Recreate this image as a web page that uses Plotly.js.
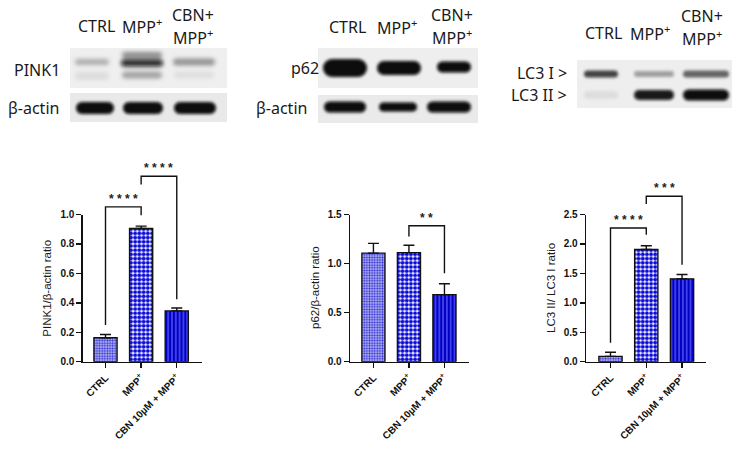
<!DOCTYPE html>
<html>
<head>
<meta charset="utf-8">
<script src="https://cdn.plot.ly/plotly-3.0.1.min.js"></script>
<style>html,body{margin:0;padding:0;background:#fff;}#chart{width:738px;height:454px;}</style>
</head>
<body>
<div id="chart"></div>
<script>
// ---------------- data ----------------
const groups = ['CTRL', 'MPP<sup>+</sup>', 'CBN 10µM + MPP<sup>+</sup>'];

const pinkMean = [0.163, 0.905, 0.345];
const pinkSem  = [0.022, 0.016, 0.020];
const p62Mean  = [1.106, 1.112, 0.684];
const p62Sem   = [0.100, 0.075, 0.110];
const lc3Mean  = [0.090, 1.905, 1.407];
const lc3Sem   = [0.070, 0.065, 0.073];

const yTitles = ['PINK1/β-actin ratio', 'p62/β-actin ratio', 'LC3 II/ LC3 I ratio'];
const yTopTick = [1.0, 1.5, 2.5];
const yDtick = [0.2, 0.5, 0.5];

// significance brackets: pairs of groups, [left leg end, bar top, right leg end], labels
const pinkBrPairs = [[0, 1], [1, 2]];
const pinkBrY     = [[0.25, 1.052, 0.995], [1.203, 1.26, 0.425]];
const pinkBrStars = ['****', '****'];
const p62BrPairs  = [[1, 2]];
const p62BrY      = [[1.276, 1.385, 0.902]];
const p62BrStars  = ['**'];
const lc3BrPairs  = [[0, 1], [1, 2]];
const lc3BrY      = [[0.32, 2.27, 2.155], [2.68, 2.81, 1.645]];
const lc3BrStars  = ['****', '***'];

// blot header labels
const laneLabels = ['CTRL', 'MPP<sup>+</sup>', 'CBN+', 'MPP<sup>+</sup>'];

// ---------------- layout helpers ----------------
const W = 738, H = 454;
const PX = x => x / W;
const PY = y => 1 - y / H;
const FONT = 'Liberation Sans, Arial, sans-serif';
const HFONT = 'Noto Sans, Open Sans, sans-serif';
const INK = '#111';

const xDom = [[82.7, 201.7], [350, 469.3], [586, 706]];
const xRng = [[-0.64, 2.7], [-0.66, 2.7], [-0.685, 2.67]];
const yBottom = 361.7, yTopPx = 214.5, yBrTopPx = 150;

const patShape = ['.', '.', '|'];
const patFg = ['#3434d8', '#0c0cd6', '#5a5aff'];
const patBg = ['#cacaf5', '#ffffff', '#0000bf'];
const patSize = [2.6, 4.2, 3.8];
const patSol = [0.5, 0.68, 0.35];

const traces = [];
const annotations = [];
const layout = {
  width: W, height: H, autosize: false,
  margin: {l: 0, r: 0, t: 0, b: 0},
  paper_bgcolor: '#fff', plot_bgcolor: 'rgba(0,0,0,0)',
  showlegend: false, barmode: 'overlay',
  font: {family: FONT, color: INK},
  annotations: annotations,
  images: []
};

function addChart(i, means, sems, brPairs, brY, brStars) {
  const sfx = i === 0 ? '' : String(i + 1);
  const xa = 'x' + sfx, ya = 'y' + sfx, ybN = String(i + 4), yb = 'y' + ybN;
  const tickfont = {family: FONT, size: 10, color: INK, weight: 'bold'};

  layout['xaxis' + sfx] = {
    domain: [PX(xDom[i][0]), PX(xDom[i][1])], range: xRng[i], anchor: ya,
    type: 'category', categoryorder: 'array', categoryarray: groups,
    showline: true, linecolor: INK, linewidth: 1.4,
    ticks: 'outside', ticklen: 5, tickwidth: 1.4, tickcolor: INK,
    tickangle: -45, tickfont: tickfont, showgrid: false, zeroline: false, fixedrange: true
  };
  layout['yaxis' + sfx] = {
    domain: [PY(yBottom), PY(yTopPx)], range: [0, yTopTick[i]], anchor: xa,
    showline: true, linecolor: INK, linewidth: 1.4,
    ticks: 'outside', ticklen: 5, tickwidth: 1.4, tickcolor: INK,
    tick0: 0, dtick: yDtick[i], tickformat: '.1f', tickfont: tickfont,
    showgrid: false, zeroline: false, fixedrange: true
  };
  const brRange = yTopTick[i] * (yBottom - yBrTopPx) / (yBottom - yTopPx);
  layout['yaxis' + ybN] = {
    domain: [PY(yBottom), PY(yBrTopPx)], range: [0, brRange], anchor: xa,
    visible: false, fixedrange: true
  };

  groups.forEach((g, j) => {
    traces.push({
      type: 'bar', x: [g], y: [means[j]], xaxis: xa, yaxis: ya, width: 0.65,
      marker: {
        color: patFg[j], line: {color: INK, width: 1.4},
        pattern: {shape: patShape[j], fgcolor: patFg[j], bgcolor: patBg[j],
                  size: patSize[j], solidity: patSol[j], fillmode: 'replace'}
      },
      error_y: {type: 'data', symmetric: false, array: [sems[j]], arrayminus: [0],
                color: INK, thickness: 1.4, width: 5.5},
      hoverinfo: 'skip'
    });
  });

  brPairs.forEach((p, k) => {
    traces.push({
      type: 'scatter', mode: 'lines', xaxis: xa, yaxis: yb,
      x: [groups[p[0]], groups[p[0]], groups[p[1]], groups[p[1]]],
      y: [brY[k][0], brY[k][1], brY[k][1], brY[k][2]],
      line: {color: INK, width: 1.4}, hoverinfo: 'skip'
    });
    annotations.push({
      xref: xa, yref: yb, x: (p[0] + p[1]) / 2, y: brY[k][1],
      text: brStars[k].split('').join(' '), showarrow: false,
      xanchor: 'center', yanchor: 'bottom', yshift: -1,
      font: {family: FONT, size: 12, color: '#222', weight: 'bold'}
    });
  });

  annotations.push({
    xref: 'paper', yref: 'paper', x: PX([46.7, 315, 551][i]), y: PY(288),
    text: yTitles[i], textangle: -90, showarrow: false,
    xanchor: 'center', yanchor: 'middle',
    font: {family: FONT, size: 11.5, color: '#1a1a1a'}
  });
}

addChart(0, pinkMean, pinkSem, pinkBrPairs, pinkBrY, pinkBrStars);
addChart(1, p62Mean, p62Sem, p62BrPairs, p62BrY, p62BrStars);
addChart(2, lc3Mean, lc3Sem, lc3BrPairs, lc3BrY, lc3BrStars);

// ---------------- western blot panels (decorative images) ----------------
function blotSVG(w, h, bg, bands, blur) {
  let s = '<svg xmlns="http://www.w3.org/2000/svg" width="' + w + '" height="' + h + '" viewBox="0 0 ' + w + ' ' + h + '">' +
    '<defs><filter id="b" x="-50%" y="-50%" width="200%" height="200%"><feGaussianBlur stdDeviation="' + blur + '"/></filter></defs>' +
    '<rect width="' + w + '" height="' + h + '" fill="' + bg + '"/><g filter="url(#b)">';
  bands.forEach(b => {
    const cx = b[0], cy = b[1], rx = b[2], ry = b[3], op = b[4];
    s += '<rect x="' + (cx - rx) + '" y="' + (cy - ry) + '" width="' + (2 * rx) + '" height="' + (2 * ry) +
         '" rx="' + ry + '" ry="' + ry + '" fill="#080808" fill-opacity="' + op + '"/>';
  });
  s += '</g></svg>';
  return 'data:image/svg+xml;charset=utf-8,' + encodeURIComponent(s);
}
function addBlot(x, y, w, h, bg, bands, blur) {
  layout.images.push({
    source: blotSVG(w, h, bg, bands, blur), xref: 'paper', yref: 'paper',
    x: PX(x), y: PY(y), sizex: w / W, sizey: h / H,
    xanchor: 'left', yanchor: 'top', sizing: 'stretch', layer: 'above'
  });
}
// PINK1
addBlot(70, 48, 157, 40, '#efefef', [
  [22, 14, 17, 3, 0.28], [22, 28, 17, 4, 0.08],
  [72, 7, 20, 3, 0.42], [72, 15, 21, 3.5, 0.9], [72, 27, 20, 3.5, 0.32],
  [124, 14, 21, 3.5, 0.38], [124, 27, 20, 3, 0.08]
], 2);
addBlot(70, 93, 157, 29, '#e9e9e9', [
  [25, 15, 19, 6, 1], [73, 15, 20, 6, 1], [125, 15, 21, 6, 1]
], 1.4);
// p62
addBlot(318, 48, 160, 40, '#eeeeee', [
  [27, 20, 22, 9, 1], [81, 20, 22, 7, 1], [136, 19, 17, 5.5, 1]
], 1.6);
addBlot(318, 95, 160, 28, '#eaeaea', [
  [27, 12, 21, 5.5, 1], [80, 12, 19, 4.5, 1], [131, 12, 22, 5.5, 1]
], 1.4);
// LC3
addBlot(577, 60, 155, 48, '#eeeeee', [
  [24, 14, 17, 3.5, 0.72], [24, 35, 17, 4, 0.07],
  [77, 14, 20, 3, 0.33], [77, 35, 20, 5, 0.95],
  [129, 14, 23, 3.5, 0.58], [129, 35, 23, 5.5, 1]
], 1.6);

// blot labels
function hLabel(text, x, y, anchor) {
  annotations.push({
    xref: 'paper', yref: 'paper', x: PX(x), y: PY(y), text: text, showarrow: false,
    xanchor: anchor || 'center', yanchor: 'middle',
    font: {family: HFONT, size: 16, color: '#1a1a1a'}
  });
}
const headerX = [[96, 142, 193], [347, 397, 452], [603, 650, 702]];
const headerY = [[26, 26, 15, 37], [27, 27, 15, 37], [33, 33, 16, 38]];
for (let p = 0; p < 3; p++) {
  hLabel(laneLabels[0], headerX[p][0], headerY[p][0]);
  hLabel(laneLabels[1], headerX[p][1], headerY[p][1]);
  hLabel(laneLabels[2], headerX[p][2], headerY[p][2]);
  hLabel(laneLabels[3], headerX[p][2], headerY[p][3]);
}
hLabel('PINK1', 12, 70, 'left');
hLabel('β-actin', 6, 108, 'left');
hLabel('p62', 289, 68, 'left');
hLabel('β-actin', 254, 108, 'left');
hLabel('LC3 I >', 569, 73, 'right');
hLabel('LC3 II >', 569, 95, 'right');

Plotly.newPlot('chart', traces, layout, {staticPlot: true, displayModeBar: false});
</script>
</body>
</html>
